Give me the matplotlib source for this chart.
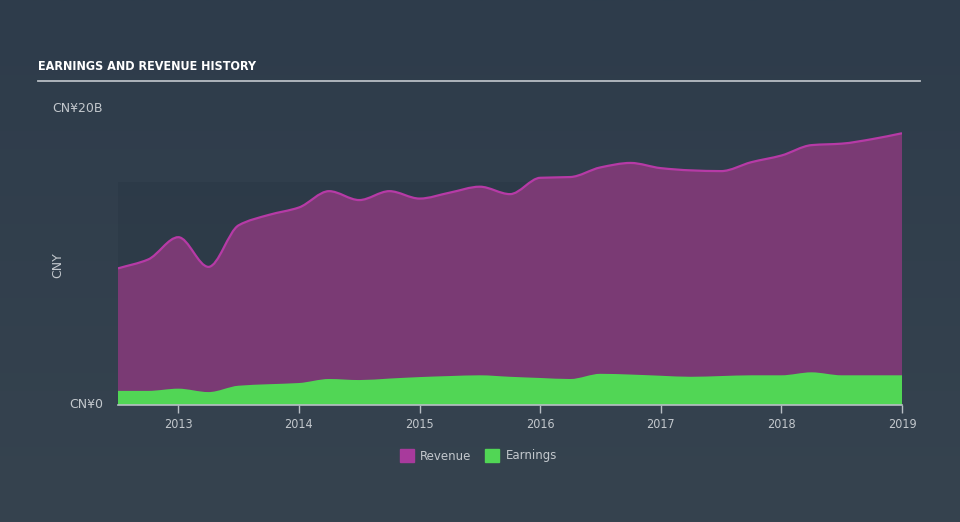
import matplotlib
matplotlib.use("Agg")
import matplotlib.pyplot as plt
import numpy as np
from matplotlib.path import Path
from matplotlib.patches import PathPatch, Rectangle
from matplotlib.colors import LinearSegmentedColormap

# quarterly dates (decimal years) and values in CN¥ billions
dates = [2012.5, 2012.75, 2013.0, 2013.25, 2013.5, 2013.75, 2014.0, 2014.25, 2014.5,
         2014.75, 2015.0, 2015.25, 2015.5, 2015.75, 2016.0, 2016.25, 2016.5, 2016.75,
         2017.0, 2017.25, 2017.5, 2017.75, 2018.0, 2018.25, 2018.5, 2018.75, 2019.0]
revenue = [9.2, 9.8, 11.3, 9.3, 12.1, 12.8, 13.3, 14.4, 13.8,
           14.4, 13.9, 14.3, 14.7, 14.2, 15.3, 15.35, 16.0, 16.3,
           15.95, 15.8, 15.75, 16.35, 16.8, 17.5, 17.6, 17.9, 18.3]
earnings = [0.95, 0.95, 1.1, 0.87, 1.3, 1.4, 1.48, 1.75, 1.68,
            1.78, 1.88, 1.95, 2.0, 1.9, 1.82, 1.75, 2.1, 2.05,
            1.97, 1.9, 1.95, 2.0, 2.0, 2.2, 2.0, 2.0, 2.0]
year_ticks = [2013, 2014, 2015, 2016, 2017, 2018, 2019]

BG_TOP = "#2e3c4b"
BG_BOT = "#36434f"
TXT = "#c3c8cd"
REV_FILL = "#7a3a74"
REV_LINE = "#b63aa6"
EARN = "#51d655"


def smooth_path(x, y):
    # monotone cubic bezier segments through the points (like d3 curveMonotoneX)
    x = np.asarray(x, float)
    y = np.asarray(y, float)
    h = np.diff(x)
    d = np.diff(y) / h
    m = np.zeros_like(y)
    m[0], m[-1] = d[0], d[-1]
    for i in range(1, len(y) - 1):
        if d[i - 1] * d[i] <= 0:
            m[i] = 0
        else:
            m[i] = 2 / (1 / d[i - 1] + 1 / d[i])
    verts = [(x[0], y[0])]
    codes = [Path.MOVETO]
    for i in range(len(x) - 1):
        verts += [(x[i] + h[i] / 3, y[i] + m[i] * h[i] / 3),
                  (x[i + 1] - h[i] / 3, y[i + 1] - m[i + 1] * h[i] / 3),
                  (x[i + 1], y[i + 1])]
        codes += [Path.CURVE4] * 3
    return verts, codes


def area_patch(x, y, **kw):
    verts, codes = smooth_path(x, y)
    verts = verts + [(x[-1], 0), (x[0], 0), (x[0], y[0])]
    codes = codes + [Path.LINETO, Path.LINETO, Path.CLOSEPOLY]
    return PathPatch(Path(verts, codes), **kw)


fig = plt.figure(figsize=(9.6, 5.22), dpi=100)

# background gradient
bg = fig.add_axes([0, 0, 1, 1], zorder=-10)
grad = np.linspace(0, 1, 256).reshape(-1, 1)
cmap = LinearSegmentedColormap.from_list("bg", [BG_TOP, BG_BOT])
bg.imshow(grad, aspect="auto", cmap=cmap, extent=[0, 1, 0, 1], origin="upper")
bg.axis("off")

W, H = 960, 522
ax = fig.add_axes([118 / W, 1 - 405 / H, (902 - 118) / W, (405 - 108) / H])
ax.set_xlim(2012.5, 2019.0)
ax.set_ylim(0, 20)
ax.patch.set_alpha(0)

ax.add_patch(Rectangle((2012.5, 0), 6.5, 15, facecolor="#2a3846", alpha=0.55,
                       edgecolor="none", zorder=0))
ax.add_patch(area_patch(dates, revenue, facecolor=REV_FILL, edgecolor="none", zorder=1))
rv, rc = smooth_path(dates, revenue)
ax.add_patch(PathPatch(Path(rv, rc), facecolor="none", edgecolor=REV_LINE, lw=1.6, zorder=2))
ax.add_patch(area_patch(dates, earnings, facecolor=EARN, edgecolor="none", zorder=3))

for s in ["top", "right", "left"]:
    ax.spines[s].set_visible(False)
ax.spines["bottom"].set_color("#b8bec4")
ax.spines["bottom"].set_linewidth(1.2)
ax.spines["bottom"].set_zorder(5)

ax.set_xticks(year_ticks)
ax.set_xticklabels([str(t) for t in year_ticks], fontsize=9, color=TXT,
                   family="DejaVu Sans", fontstretch="condensed")
ax.tick_params(axis="x", colors="#b8bec4", length=6, width=1, pad=3,
               labelcolor=TXT)
ax.set_yticks([])

fig.text(38 / W, 1 - 67 / H, "EARNINGS AND REVENUE HISTORY", fontsize=9,
         fontweight="bold", color="white", family="DejaVu Sans",
         fontstretch="condensed", va="center")
fig.add_artist(plt.Line2D([38 / W, 920 / W], [1 - 81 / H] * 2, color="#b8bec4", lw=1.3))

fig.text(52 / W, 1 - 108 / H, "CN¥20B", fontsize=9, color=TXT, va="center")
fig.text(103 / W, 1 - 404 / H, "CN¥0", fontsize=9, color=TXT, va="center", ha="right")
fig.text(58 / W, 1 - 265 / H, "CNY", fontsize=9, color=TXT, va="center", ha="center",
         rotation=90)

# legend
fig.add_artist(Rectangle((400 / W, 1 - 462 / H), 14 / W, 13 / H, color="#a83a9c",
                         transform=fig.transFigure))
fig.text(420 / W, 1 - 456 / H, "Revenue", fontsize=8.5, color=TXT, va="center")
fig.add_artist(Rectangle((485 / W, 1 - 462 / H), 14 / W, 13 / H, color=EARN,
                         transform=fig.transFigure))
fig.text(506 / W, 1 - 456 / H, "Earnings", fontsize=8.5, color=TXT, va="center")

fig.savefig("out.png", dpi=100)
